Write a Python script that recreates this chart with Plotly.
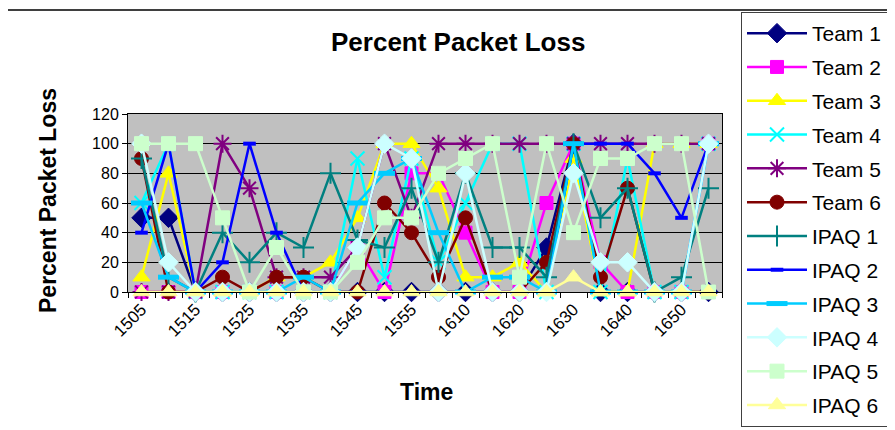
import plotly.graph_objects as go

times = ["1505", "1510", "1515", "1520", "1525", "1530", "1535", "1540", "1545", "1550",
         "1555", "1600", "1610", "1615", "1620", "1625", "1630", "1635", "1640", "1645",
         "1650", "1655"]

team1 = [50, 50, 0, 0, 0, 0, 0, 0, 0, 0, 0, 0, 0, 0, 0, 30, 100, 0, 0, 0, 0, 0]
team2 = [0, 0, 0, 0, 0, 0, 0, 0, 30, 0, 80, 80, 40, 0, 0, 60, 100, 20, 0, 0, 0, 100]
team3 = [10, 80, 0, 0, 0, 10, 10, 20, 50, 100, 100, 70, 10, 10, 20, 0, 90, 0, 0, 100, 100, 100]
team4 = [60, 100, 0, 0, 0, 0, 0, 0, 90, 10, 90, 20, 60, 100, 100, 0, 100, 0, 90, 0, 0, 100]
team5 = [0, 0, 0, 100, 70, 10, 10, 10, 30, 100, 50, 100, 100, 100, 100, 100, 100, 100, 100, 100, 100, 100]
team6 = [90, 0, 0, 10, 0, 10, 10, 0, 0, 60, 40, 10, 50, 0, 0, 20, 100, 10, 70, 0, 0, 0]
ipaq1 = [90, 10, 0, 40, 20, 40, 30, 80, 35, 30, 70, 20, 80, 30, 30, 10, 100, 50, 70, 0, 10, 70]
ipaq2 = [40, 100, 0, 20, 100, 40, 0, 0, 0, 0, 0, 0, 0, 0, 0, 0, 100, 100, 100, 80, 50, 100]
ipaq3 = [60, 10, 0, 0, 0, 0, 10, 0, 60, 80, 90, 40, 0, 10, 10, 0, 100, 0, 0, 0, 0, 100]
ipaq4 = [100, 20, 0, 0, 0, 0, 0, 0, 30, 100, 90, 0, 80, 0, 0, 0, 80, 20, 20, 0, 0, 100]
ipaq5 = [100, 100, 100, 50, 0, 30, 0, 0, 20, 50, 50, 80, 90, 100, 10, 100, 40, 90, 90, 100, 100, 0]
ipaq6 = [0, 0, 0, 0, 0, 0, 0, 0, 0, 0, 0, 0, 0, 0, 0, 0, 10, 0, 0, 0, 0, 0]

y_ticks = [0, 20, 40, 60, 80, 100, 120]

series = [
    ("Team 1", team1, "#000080", "diamond", 15, 1),
    ("Team 2", team2, "#FF00FF", "square", 13, 1),
    ("Team 3", team3, "#FFFF00", "triangle-up", 15, 1),
    ("Team 4", team4, "#00FFFF", "x-thin-open", 14, 2),
    ("Team 5", team5, "#800080", "asterisk-open", 15, 2),
    ("Team 6", team6, "#800000", "circle", 14, 1),
    ("IPAQ 1", ipaq1, "#008080", "cross-thin-open", 15, 2),
    ("IPAQ 2", ipaq2, "#0000FF", "line-ew-open", 9, 4),
    ("IPAQ 3", ipaq3, "#00CCFF", "line-ew-open", 15, 5),
    ("IPAQ 4", ipaq4, "#CCFFFF", "diamond", 15, 1),
    ("IPAQ 5", ipaq5, "#CCFFCC", "square", 14, 1),
    ("IPAQ 6", ipaq6, "#FFFF99", "triangle-up", 15, 1),
]

fig = go.Figure()
for i, (name, vals, col, sym, size, lw) in enumerate(series):
    fig.add_trace(go.Scatter(
        x=times, y=vals, name=name, mode="lines+markers",
        line=dict(color=col, width=2.5),
        marker=dict(symbol=sym, size=size, color=col, line=dict(color=col, width=lw)),
        cliponaxis=False, legendgroup="g%d" % i,
    ))

# page offset of the plot div (default body margin)
OFF = 8
W, H = 912, 448
# plot area in page pixels
L, R, T, B = 128, 722, 114, 292
pw, ph = R - L, B - T

def px(x):
    return (x - L) / pw

def py(y):
    return (B - y) / ph

fig.update_layout(
    width=W, height=H,
    margin=dict(l=L - OFF, r=W - (R - OFF), t=T - OFF, b=H - (B - OFF), autoexpand=False),
    paper_bgcolor="white", plot_bgcolor="#C0C0C0",
    font=dict(family="Arial, Liberation Sans, sans-serif", color="black", size=15),
    showlegend=True,
    legend=dict(
        x=px(741), y=py(12), xanchor="left", yanchor="top",
        bordercolor="#404040", borderwidth=1, bgcolor="white",
        font=dict(size=21, family="Arial, Liberation Sans, sans-serif"),
        traceorder="grouped", tracegroupgap=3.5, itemsizing="trace",
        itemwidth=60, maxheight=600,
        entrywidth=165, entrywidthmode="pixels",
    ),
    xaxis=dict(
        type="category", range=[-0.5, len(times) - 0.5],
        tickmode="array", tickvals=times,
        ticktext=[t if k % 2 == 0 else "" for k, t in enumerate(times)],
        tickson="boundaries", ticks="outside", ticklen=5, tickcolor="black",
        tickangle=-45, tickfont=dict(size=17),
        showline=True, linecolor="black", linewidth=1, mirror=True,
        showgrid=False, zeroline=False, automargin=False,
    ),
    yaxis=dict(
        range=[0, 120], tickmode="array", tickvals=y_ticks,
        ticks="outside", ticklen=5, tickcolor="black", tickfont=dict(size=16),
        showline=True, linecolor="black", linewidth=1, mirror=True,
        showgrid=True, gridcolor="black", gridwidth=1, zeroline=False, automargin=False,
    ),
    annotations=[
        dict(text="<b>Percent Packet Loss</b>", x=px(458), y=py(42),
             xref="paper", yref="paper", showarrow=False, font=dict(size=26),
             xanchor="center", yanchor="middle"),
        dict(text="<b>Percent Packet Loss</b>", x=px(48), y=py(201),
             xref="paper", yref="paper", showarrow=False, font=dict(size=23),
             textangle=-90, xanchor="center", yanchor="middle"),
        dict(text="<b>Time</b>", x=px(426), y=py(392),
             xref="paper", yref="paper", showarrow=False, font=dict(size=23),
             xanchor="center", yanchor="middle"),
    ],
    shapes=[
        dict(type="rect", xref="paper", yref="paper",
             x0=px(5), x1=px(915), y0=py(450), y1=py(10),
             line=dict(color="black", width=1.5), layer="below"),
    ],
)

fig.write_html("out.html")
